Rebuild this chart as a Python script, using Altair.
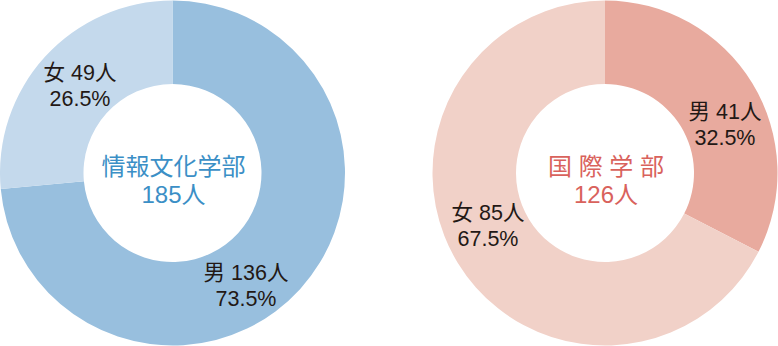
import altair as alt
import pandas as pd

# Enrollment by department and sex
departments = ["情報文化学部", "国際学部"]
dept_titles = ["情報文化学部", "国 際 学 部"]
sexes = ["男", "女"]
counts = {
    "情報文化学部": [136, 49],
    "国際学部": [41, 85],
}

# Palette: (male slice, female slice) and title colour per department
slice_colors = {
    "情報文化学部": ["#98bfde", "#c4d9ec"],
    "国際学部": ["#e8aa9e", "#f1d1c8"],
}
title_colors = {"情報文化学部": "#3b8fc6", "国際学部": "#d9625c"}

# Layout of each donut and its slice labels (pixels, first text line)
centers = {"情報文化学部": (172.5, 173), "国際学部": (605, 173)}
label_pos = {
    ("情報文化学部", "男"): (246, 274),
    ("情報文化学部", "女"): (80, 74),
    ("国際学部", "男"): (725, 113),
    ("国際学部", "女"): (488, 214),
}
OUTER_R, INNER_R = 172.5, 89

FONT = "Liberation Sans, Noto Sans CJK JP, sans-serif"
INK = "#231815"

rows = []
for d in departments:
    for i, s in enumerate(sexes):
        rows.append({"dept": d, "sex": s, "key": f"{d}-{s}", "idx": i,
                     "count": counts[d][i]})
df = pd.DataFrame(rows)

color_domain = [f"{d}-{s}" for d in departments for s in sexes]
color_range = [c for d in departments for c in slice_colors[d]]
color_scale = alt.Scale(domain=color_domain, range=color_range)

layers = []
for d, title in zip(departments, dept_titles):
    cx, cy = centers[d]
    total = sum(counts[d])

    donut = alt.Chart(df).transform_filter(
        alt.datum.dept == d
    ).mark_arc(innerRadius=INNER_R, outerRadius=OUTER_R).encode(
        theta=alt.Theta("count:Q", stack=True),
        order=alt.Order("idx:Q", sort="ascending"),
        color=alt.Color("key:N", scale=color_scale, legend=None),
        x=alt.value(cx),
        y=alt.value(cy),
    )
    layers.append(donut)

    center_df = pd.DataFrame({"t": [f"{title}\n{total}人"]})
    center = alt.Chart(center_df).mark_text(
        font=FONT, fontSize=24, color=title_colors[d], lineBreak="\n",
        lineHeight=28, baseline="middle", align="center",
    ).encode(text="t:N", x=alt.value(cx + 1), y=alt.value(cy - 5))
    layers.append(center)

    for i, s in enumerate(sexes):
        n = counts[d][i]
        pct = n / total * 100
        lx, ly = label_pos[(d, s)]
        lab_df = pd.DataFrame({"t": [f"{s} {n}人\n{pct:.1f}%"]})
        lab = alt.Chart(lab_df).mark_text(
            font=FONT, fontSize=21.5, color=INK, lineBreak="\n",
            lineHeight=25.5, baseline="middle", align="center",
        ).encode(text="t:N", x=alt.value(lx), y=alt.value(ly))
        layers.append(lab)

chart = alt.layer(*layers).resolve_scale(
    theta="independent"
).properties(
    width=778, height=346,
    autosize=alt.AutoSizeParams(type="none"),
    padding=0, background="white",
).configure_view(stroke=None)

chart.save("out.html", embed_options={"renderer": "svg", "actions": False})
